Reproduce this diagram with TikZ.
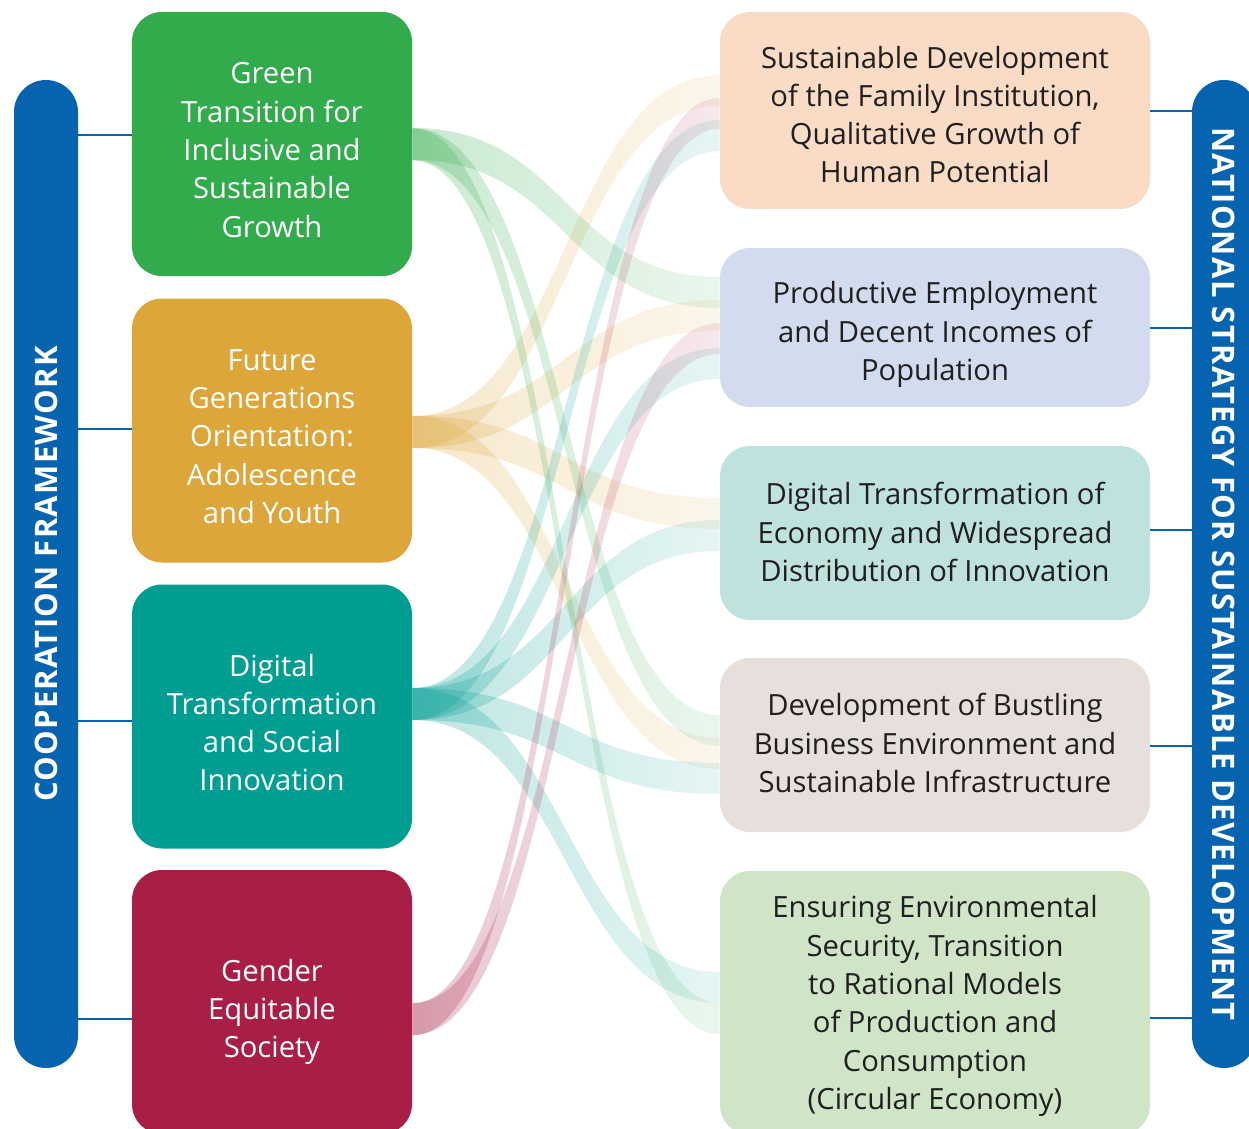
\documentclass[tikz,border=0pt]{standalone}
\usepackage{fontspec}
\setmainfont{Open Sans}
\newfontfamily\barfont[LetterSpace=4]{Open Sans}
\usepackage{tikz}
\usetikzlibrary{calc,fadings}
\definecolor{cfblue}{HTML}{0563AF}
\definecolor{cgreen}{HTML}{31AB4B}
\definecolor{corange}{HTML}{DCA63B}
\definecolor{cteal}{HTML}{009D93}
\definecolor{ccrimson}{HTML}{A81E45}
\definecolor{cpeach}{HTML}{FADBC5}
\definecolor{clav}{HTML}{D3DCEF}
\definecolor{cmint}{HTML}{C0E2DF}
\definecolor{cstone}{HTML}{E7DFDC}
\definecolor{csage}{HTML}{D0E5C7}
\tikzfading[name=ribfade, left color=transparent!74, right color=transparent!90]
\tikzset{
  lbox/.style={rounded corners=15pt, minimum width=140pt, minimum height=132pt, inner sep=0pt},
  rbox/.style={rounded corners=15pt, minimum width=215pt, inner sep=0pt},
  ltext/.style={align=center, inner sep=0pt, text=white, font=\fontsize{14.6}{19.15}\selectfont},
  rtext/.style={ltext, text=black!88},
  bar/.style={fill=cfblue, rounded corners=16pt, minimum height=32pt, minimum width=494pt, inner sep=0pt, text=white, font=\barfont\bfseries\fontsize{15.5}{18}\selectfont},
  link/.style={cfblue, line width=1pt},
  rib/.style={path fading=ribfade}
}
% ribbon: colour, source node, source offset, target node, target offset
\newcommand\ribbon[5]{%
  \fill[#1, rib] ($(#2.east)+(0,#3)$) .. controls +(154,0) and +(-154,0) .. ($(#4.west)+(0,#5)$)
    -- ($(#4.west)+(0,#5+31)$) .. controls +(-154,0) and +(154,0) .. ($(#2.east)+(0,#3+32)$) -- cycle;}
\begin{document}
\begin{tikzpicture}[x=0.5pt, y=-0.5pt]
  \useasboundingbox (0,0) rectangle (1249,1129);
  \clip (0,0) rectangle (1249,1129);
  % side bars
  \node[bar, rotate=90] (coop) at (46,574) {COOPERATION FRAMEWORK};
  \node[bar, rotate=-90] (nssd) at (1224,574) {NATIONAL STRATEGY FOR SUSTAINABLE DEVELOPMENT};
  % cooperation framework
  \node[lbox, fill=cgreen] (green) at (272,144) {};
  \node[lbox, fill=corange] (future) at (272,430.5) {};
  \node[lbox, fill=cteal] (digital) at (272,716.5) {};
  \node[lbox, fill=ccrimson] (gender) at (272,1002) {};
  \node[ltext] (greentxt) at ([yshift=-3pt]green.center) {Green\\Transition for\\Inclusive and\\Sustainable\\Growth};
  \node[ltext] (futuretxt) at ([yshift=-3pt]future.center) {Future\\Generations\\Orientation:\\Adolescence\\and Youth};
  \node[ltext] (digitaltxt) at ([yshift=-3pt]digital.center) {Digital\\Transformation\\and Social\\Innovation};
  \node[ltext] (gendertxt) at ([yshift=-5pt]gender.center) {Gender\\Equitable\\Society};
  % national strategy
  \node[rbox, fill=cpeach, minimum height=98.5pt] (family) at (935,110.5) {};
  \node[rbox, fill=clav, minimum height=79.5pt] (employ) at (935,327.5) {};
  \node[rbox, fill=cmint, minimum height=87pt] (economy) at (935,533) {};
  \node[rbox, fill=cstone, minimum height=87pt] (business) at (935,745) {};
  \node[rbox, fill=csage, minimum height=132pt] (ecology) at (935,1003) {};
  \node[rtext] (familytxt) at ([yshift=-2pt]family.center) {Sustainable Development\\of the Family Institution,\\Qualitative Growth of\\Human Potential};
  \node[rtext] (employtxt) at ([yshift=-3.5pt]employ.center) {Productive Employment\\and Decent Incomes of\\Population};
  \node[rtext] (economytxt) at ([yshift=0.5pt]economy.center) {Digital Transformation of\\Economy and Widespread\\Distribution of Innovation};
  \node[rtext] (businesstxt) at ([yshift=1pt]business.center) {Development of Bustling\\Business Environment and\\Sustainable Infrastructure};
  \node[rtext] (ecologytxt) at ([yshift=-1.5pt]ecology.center) {Ensuring Environmental\\Security, Transition\\to Rational Models\\of Production and\\Consumption\\(Circular Economy)};
  % ties to the bars
  \foreach \n/\off in {green/-9, future/-1.5, digital/4.5, gender/17} {
    \path ($(\n.west)+(0,\off)$) coordinate (a\n);
    \draw[link] (a\n) -- (a\n -| coop.south);
  }
  \foreach \n/\off in {family/0.5, employ/0.5, economy/-3, business/1, ecology/15} {
    \path ($(\n.east)+(0,\off)$) coordinate (b\n);
    \draw[link] (b\n) -- (b\n -| nssd.south);
  }
  % ribbons
  \foreach \c/\s/\so/\t/\to in {corange/future/-14.5/family/-35.5, corange/future/-14.5/employ/-27.5,
      corange/future/-14.5/economy/-35, corange/future/-14.5/business/-7,
      cgreen/green/-16/employ/-50.5, cgreen/green/-16/business/-30, cgreen/green/-16/ecology/0,
      cteal/digital/-28.5/family/9.5, cteal/digital/-28.5/employ/20.5, cteal/digital/-28.5/economy/-13,
      cteal/digital/-28.5/business/18, cteal/digital/-28.5/ecology/-31,
      ccrimson/gender/1/family/-13.5, ccrimson/gender/1/employ/-4.5}
    \ribbon{\c}{\s}{\so}{\t}{\to};
\end{tikzpicture}
\end{document}
